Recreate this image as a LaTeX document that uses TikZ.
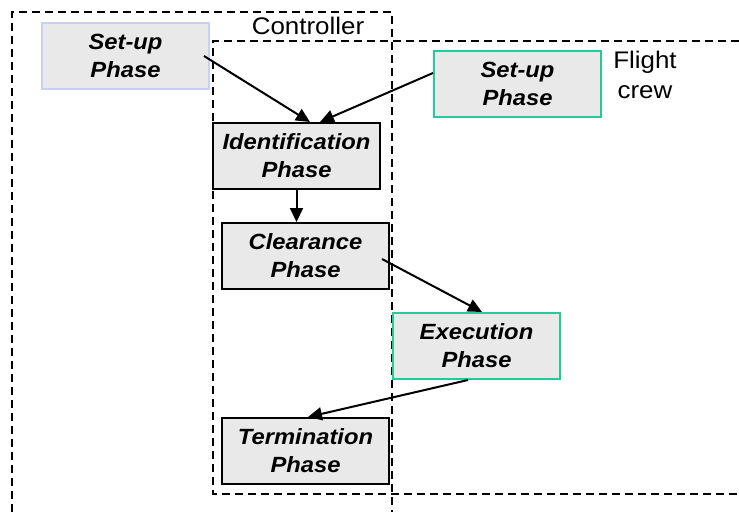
\documentclass[tikz,border=0pt]{standalone}
\usepackage{fontspec}
\setmainfont{Liberation Sans}
\newfontfamily\phasefont[FakeStretch=1.08]{Liberation Sans}
\usetikzlibrary{arrows.meta,calc}
\definecolor{boxfill}{HTML}{E9E9E9}
\definecolor{lavender}{HTML}{CCCCFF}
\definecolor{crewgreen}{HTML}{22CC99}
\begin{document}
\begin{tikzpicture}[x=1pt,y=-1pt,
  phase/.style={draw=black,line width=2pt,fill=boxfill,minimum width=167pt,
    minimum height=66pt,inner sep=0pt,align=center,
    font=\phasefont\fontsize{22}{28}\selectfont\bfseries\itshape},
  region/.style={line width=1.7pt,dash pattern=on 8pt off 5pt},
  flow/.style={line width=2pt,-{Triangle[length=14pt,width=13pt]}},
  lbl/.style={font=\phasefont\fontsize{24}{30}\selectfont,align=center,inner sep=0pt}]
\useasboundingbox (0,0) rectangle (739,512);

% responsibility regions
\draw[region] (12,512) -- (12,12) -- (392,12) -- (392,512);
\draw[region] (739,41) -- (213,41) -- (213,494) -- (739,494);
\node[lbl] (ctl) at (308,26) {Controller};
\node[lbl] (crew) at (645,75) {Flight\\crew};

% phases
\node[phase,draw=lavender] (su1) at (125.5,56) {Set-up\\Phase};
\node[phase,draw=crewgreen] (su2) at (517.5,84) {Set-up\\Phase};
\node[phase] (ident) at (296.5,156) {Identification\\Phase};
\node[phase] (clear) at (305.5,256) {Clearance\\Phase};
\node[phase,draw=crewgreen] (exec) at (476.5,346) {Execution\\Phase};
\node[phase] (term) at (305.5,451) {Termination\\Phase};

% transitions
\draw[flow] ([xshift=-6pt]su1.east) -- ([xshift=13.5pt]ident.north);
\draw[flow] ([yshift=11pt]su2.west) -- ([xshift=23.5pt]ident.north);
\draw[flow] (ident.south) -- (ident.south |- clear.north);
\draw[flow] ([xshift=-8pt,yshift=-3pt]clear.east) -- ([xshift=5.5pt]exec.north);
\draw[flow] ([xshift=-8.5pt]exec.south) -- ([xshift=2.5pt]term.north);
\end{tikzpicture}
\end{document}
